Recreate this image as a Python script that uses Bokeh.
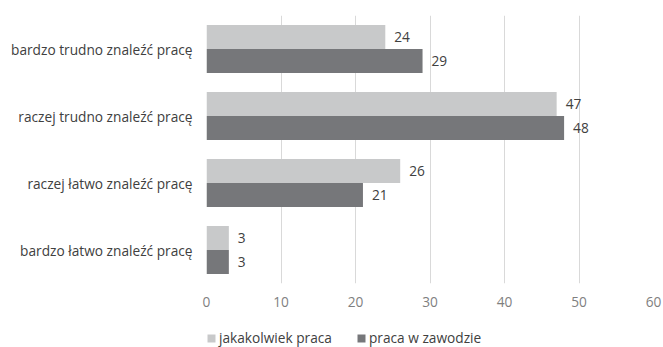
from bokeh.plotting import figure
from bokeh.layouts import column
from bokeh.models import ColumnDataSource, Legend, LegendItem, FactorRange, Range1d, FixedTicker, LabelSet
from bokeh.core.properties import value
from bokeh.transform import dodge
from bokeh.embed import file_html
from bokeh.resources import INLINE

categories = ["bardzo łatwo znaleźć pracę", "raczej łatwo znaleźć pracę",
              "raczej trudno znaleźć pracę", "bardzo trudno znaleźć pracę"]
any_job = [3, 26, 47, 24]
in_profession = [3, 21, 48, 29]
series_names = ["jakakolwiek praca", "praca w zawodzie"]
x_ticks = [0, 10, 20, 30, 40, 50, 60]

FONT = "Open Sans"
FS = "13.7px"
LIGHT = "#c8c9ca"
DARK = "#76777a"
TXT = "#404040"

src = ColumnDataSource(dict(cat=categories, a=any_job, b=in_profession,
                            at=[str(v) for v in any_job], bt=[str(v) for v in in_profession]))

p = figure(width=663, height=312, output_backend="svg", toolbar_location=None,
           y_range=FactorRange(*categories), x_range=Range1d(0, 60),
           min_border_left=206, min_border_right=10, min_border_top=15, min_border_bottom=29)
p.outline_line_color = None

bw = 0.36
ra = p.hbar(y=dodge("cat", bw / 2, range=p.y_range), right="a", left=0, height=bw,
            source=src, fill_color=LIGHT, line_color=None)
rb = p.hbar(y=dodge("cat", -bw / 2, range=p.y_range), right="b", left=0, height=bw,
            source=src, fill_color=DARK, line_color=None)

for col, txt, off in (("a", "at", bw / 2), ("b", "bt", -bw / 2)):
    p.add_layout(LabelSet(x=col, y=dodge("cat", off, range=p.y_range), text=txt, source=src,
                          x_offset=9, text_baseline="middle", text_font=value(FONT),
                          text_font_size=value(FS), text_color=value(TXT)))

p.xaxis.ticker = FixedTicker(ticks=x_ticks)
p.xaxis.axis_line_color = None
p.xaxis.major_tick_line_color = None
p.xaxis.minor_tick_line_color = None
p.xaxis.major_label_text_font = FONT
p.xaxis.major_label_text_font_size = FS
p.xaxis.major_label_text_color = "#7f7f7f"
p.xaxis.major_label_standoff = 7

p.yaxis.axis_line_color = None
p.yaxis.major_tick_line_color = None
p.yaxis.major_label_text_font = FONT
p.yaxis.major_label_text_font_size = FS
p.yaxis.major_label_text_color = TXT
p.yaxis.major_label_standoff = 8

p.xgrid.grid_line_color = "#d9d9d9"
p.ygrid.grid_line_color = None

# legend strip below the chart (frame is aligned with the main chart's frame)
lg = figure(width=663, height=35, output_backend="svg", toolbar_location=None,
            x_range=Range1d(0, 1), y_range=Range1d(0, 1), min_border=0)
lg.axis.visible = False
lg.grid.visible = False
lg.outline_line_color = None
proxy = ColumnDataSource(dict(y=[-1], r=[0]))  # off-range legend proxies
la = lg.hbar(y="y", right="r", left=0, height=0.5, source=proxy, fill_color=LIGHT, line_color=None)
lb = lg.hbar(y="y", right="r", left=0, height=0.5, source=proxy, fill_color=DARK, line_color=None)
legend = Legend(items=[LegendItem(label=series_names[0], renderers=[la]),
                       LegendItem(label=series_names[1], renderers=[lb])],
                orientation="horizontal", location=(0, 0),
                label_text_font=FONT, label_text_font_size=FS, label_text_color=TXT,
                glyph_width=10, glyph_height=10, label_standoff=3, spacing=24,
                border_line_color=None, background_fill_alpha=0, margin=0, padding=0)
lg.add_layout(legend)

layout = column(p, lg, spacing=0)
open("out.html", "w").write(file_html(layout, INLINE))
